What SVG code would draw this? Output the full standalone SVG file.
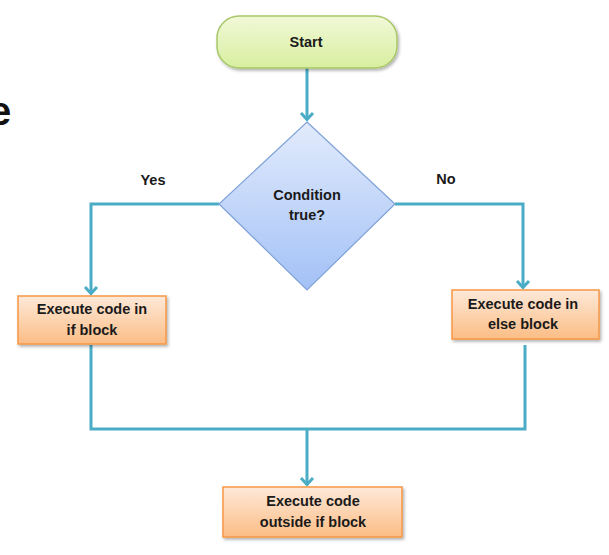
<svg xmlns="http://www.w3.org/2000/svg" width="609" height="555" viewBox="0 0 609 555">
  <style>
    .lbl { font-family: "Liberation Sans", Arial, sans-serif; font-weight: bold; font-size: 14.5px; fill: #1a1a1a; text-anchor: middle; }
    .conn { fill: none; stroke: #4bacc6; stroke-width: 3; stroke-linejoin: miter; }
    .orange { fill: url(#gOrange); stroke: #f79646; stroke-width: 1.5; filter: url(#shadow); }
  </style>
  <defs>
    <linearGradient id="gGreen" x1="0" y1="0" x2="0" y2="1">
      <stop offset="0" stop-color="#f1f8d8"/>
      <stop offset="1" stop-color="#d7ef9f"/>
    </linearGradient>
    <linearGradient id="gBlue" x1="0" y1="0" x2="0" y2="1">
      <stop offset="0" stop-color="#e2ebfc"/>
      <stop offset="1" stop-color="#a3c1f6"/>
    </linearGradient>
    <linearGradient id="gOrange" x1="0" y1="0" x2="0" y2="1">
      <stop offset="0" stop-color="#fee9d9"/>
      <stop offset="1" stop-color="#fbbd85"/>
    </linearGradient>
    <filter id="shadow" x="-10%" y="-10%" width="130%" height="140%">
      <feDropShadow dx="1.5" dy="2" stdDeviation="1.5" flood-color="#000" flood-opacity="0.3"/>
    </filter>
    <marker id="arrow" viewBox="-9 -8 11 16" markerWidth="11" markerHeight="16" refX="0" refY="0" orient="auto" markerUnits="userSpaceOnUse">
      <path d="M-7,-6 L-0.5,0 L-7,6" fill="none" stroke="#4bacc6" stroke-width="3"/>
    </marker>
  </defs>
  <rect width="609" height="555" fill="#ffffff"/>

  <text x="-11" y="125" style="font-family: 'Liberation Sans', Arial, sans-serif; font-weight: bold; font-size: 40px; fill: #111;">e</text>

  <g id="connectors">
    <path class="conn" d="M307,68 V120" marker-end="url(#arrow)"/>
    <path class="conn" d="M219,204 H91 V294" marker-end="url(#arrow)"/>
    <path class="conn" d="M395,204 H523 V288" marker-end="url(#arrow)"/>
    <path class="conn" d="M91,345 V429 H525 V345"/>
    <path class="conn" d="M307,429 V485" marker-end="url(#arrow)"/>
    <text class="lbl" x="153" y="185">Yes</text>
    <text class="lbl" x="446" y="184">No</text>
  </g>

  <g id="start">
    <rect x="217" y="16" width="180" height="52" rx="22" ry="22" fill="url(#gGreen)" stroke="#a9c76a" stroke-width="1.5" filter="url(#shadow)"/>
    <text class="lbl" x="306" y="47">Start</text>
  </g>

  <g id="condition">
    <polygon points="307,122 395,204 307,290 219,204" fill="url(#gBlue)" stroke="#7ea1d8" stroke-width="1.2"/>
    <text class="lbl" x="307" y="200">Condition</text>
    <text class="lbl" x="307" y="220">true?</text>
  </g>

  <g id="if-block">
    <rect class="orange" x="18" y="296" width="148" height="48"/>
    <text class="lbl" x="92" y="314">Execute code in</text>
    <text class="lbl" x="92" y="335">if block</text>
  </g>

  <g id="else-block">
    <rect class="orange" x="452" y="290" width="147" height="49"/>
    <text class="lbl" x="523" y="309">Execute code in</text>
    <text class="lbl" x="523" y="329">else block</text>
  </g>

  <g id="outside-block">
    <rect class="orange" x="223" y="487" width="179" height="50"/>
    <text class="lbl" x="313" y="506">Execute code</text>
    <text class="lbl" x="313" y="527">outside if block</text>
  </g>
</svg>
